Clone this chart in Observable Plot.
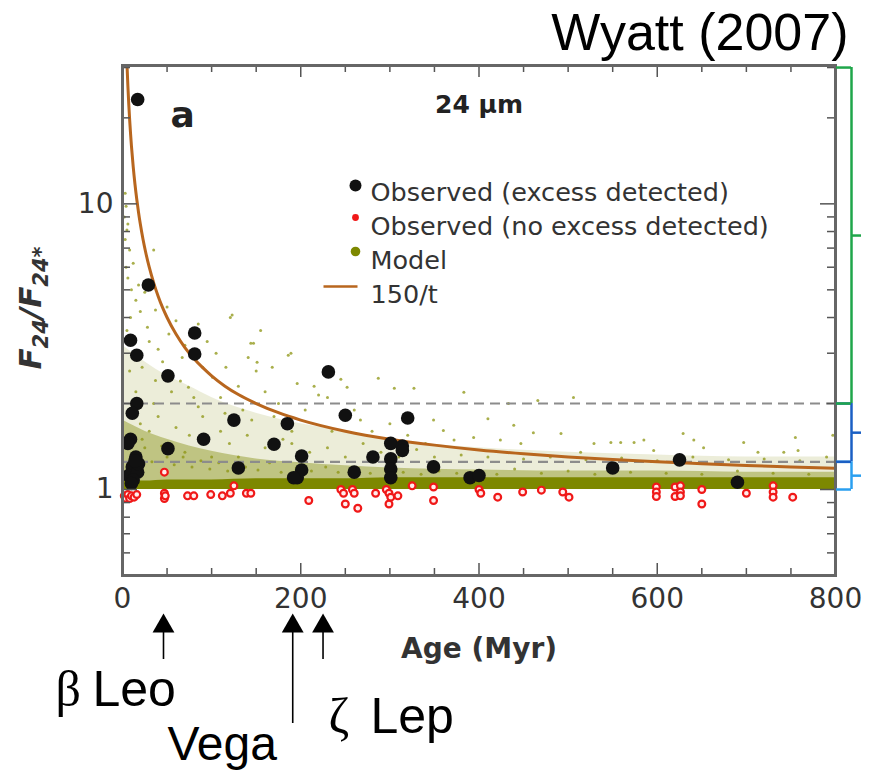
<!DOCTYPE html>
<html><head><meta charset="utf-8">
<script src="https://cdn.jsdelivr.net/npm/d3@7"></script>
<script src="https://cdn.jsdelivr.net/npm/@observablehq/plot@0.6"></script>
<style>
html,body{margin:0;padding:0;background:#fff;}
#chart svg{display:block;}
</style></head><body><div id="chart"></div>
<script>
// ---------- data ----------
// Observed stars with 24 µm excess detected (age in Myr, F24/F24*)
const excessAge   = [17, 29, 9, 16, 81, 81, 51, 16, 11, 125, 185, 9, 6, 51, 91, 170, 201, 130, 15, 11, 7, 17, 12, 18, 10, 14, 196, 201, 192, 231, 250, 320, 281, 301, 314, 314, 301, 301, 301, 260, 349, 390, 400, 550, 625, 690];
const excessRatio = [23.2, 5.2, 3.33, 2.95, 3.53, 2.98, 2.5, 2.0, 1.85, 1.75, 1.70, 1.50, 1.45, 1.39, 1.50, 1.44, 1.31, 1.19, 1.30, 1.20, 1.12, 1.15, 1.08, 1.23, 1.05, 1.26, 1.10, 1.17, 1.10, 2.58, 1.82, 1.78, 1.30, 1.45, 1.42, 1.37, 1.28, 1.18, 1.10, 1.15, 1.20, 1.10, 1.12, 1.19, 1.27, 1.06];
// Observed stars with no excess detected
const noExcessAge   = [2, 4, 6, 8, 10, 13, 16, 47, 47, 47, 48, 73, 80, 99, 112, 121, 125, 139, 144, 209, 245, 248, 250, 258, 260, 264, 284, 296, 299, 301, 299, 309, 325, 349, 349, 400, 402, 421, 449, 470, 494, 501, 599, 599, 599, 620, 620, 626, 626, 626, 650, 650, 700, 730, 730, 730, 752];
const noExcessRatio = [0.95, 0.93, 0.96, 0.93, 0.95, 0.94, 0.96, 1.15, 0.97, 0.93, 0.95, 0.95, 0.95, 0.96, 0.95, 0.97, 1.03, 0.97, 0.97, 0.915, 1.0, 0.97, 0.89, 1.0, 0.97, 0.86, 0.97, 1.0, 0.97, 0.94, 0.89, 0.95, 1.03, 1.02, 0.915, 1.0, 0.97, 0.94, 0.98, 0.995, 0.98, 0.94, 1.02, 0.98, 0.945, 1.02, 0.945, 1.03, 0.98, 0.95, 1.0, 0.89, 0.97, 1.03, 0.98, 0.94, 0.94];
// Model population: envelopes of the dense cloud (age, ratio)
const bandAge   = [0, 25, 50, 75, 100, 150, 200, 250, 300, 400, 500, 600, 700, 800];
const bandCore  = [1.07, 1.07, 1.08, 1.08, 1.08, 1.09, 1.09, 1.09, 1.10, 1.10, 1.10, 1.10, 1.10, 1.10];
const bandDense = [1.75, 1.6, 1.5, 1.42, 1.36, 1.28, 1.24, 1.21, 1.19, 1.17, 1.16, 1.16, 1.15, 1.15];
const bandHaze  = [3.2, 2.8, 2.5, 2.3, 2.1, 1.85, 1.7, 1.6, 1.5, 1.4, 1.35, 1.32, 1.3, 1.3];
// Model population: scattered individual points outside the dense cloud
const modelAge   = [3, 4, 5, 3, 8, 35, 6, 15, 10, 20, 37, 28, 52, 60, 22, 67, 90, 74, 37, 123, 147, 155, 186, 196, 168, 141, 116, 101, 50, 121, 2, 6, 12, 4, 18, 25, 9, 30, 40, 45, 14, 5, 8, 55, 80, 95, 105, 130, 110, 160, 175, 85, 70, 189, 215, 230, 245, 252, 287, 305, 327, 383, 433, 466, 220, 267, 349, 360, 410, 439, 461, 372, 394, 424, 506, 492, 529, 548, 559, 574, 585, 629, 641, 652, 697, 713, 755, 758, 797, 447, 514, 596, 742, 144, 151, 260, 280, 300, 320, 340, 235, 205, 190, 150, 135, 10, 20, 30, 40, 60, 75, 90, 110, 120, 140, 160, 180, 25, 50, 70, 100, 130, 15, 35, 65, 85, 115, 145, 170, 190, 210, 230, 250, 270, 290, 310, 330, 350, 380, 410, 450, 480, 520, 560, 600, 640, 680, 720, 760, 790,
  5, 12, 22, 33, 44, 58, 68, 78, 88, 98, 108, 118, 128, 138, 152, 165, 178, 195, 212, 228, 242, 262, 278, 295, 315, 335, 355, 375, 395, 420, 440, 470, 500, 530, 570, 610, 650, 690, 730, 770];
const modelRatio = [10.9, 9.8, 8.1, 7.5, 6.9, 6.9, 5.5, 4.6, 5.0, 4.2, 4.25, 3.7, 3.5, 3.9, 2.68, 2.9, 2.68, 2.28, 2.41, 4.08, 3.25, 3.6, 2.95, 2.35, 2.68, 2.9, 2.68, 2.47, 4.35, 4.0, 9.0, 8.5, 6.2, 6.0, 5.2, 4.9, 4.0, 3.3, 3.1, 2.8, 3.0, 3.6, 2.6, 2.2, 2.1, 3.3, 3.0, 2.3, 2.1, 2.2, 2.0, 3.8, 3.2, 3.0, 2.3, 2.1, 2.43, 2.28, 2.45, 2.26, 2.26, 2.19, 2.0, 2.05, 2.14, 1.75, 1.75, 1.61, 1.77, 1.68, 1.58, 1.49, 1.52, 1.49, 2.1, 1.57, 1.45, 1.46, 1.46, 1.46, 1.49, 1.57, 1.49, 1.40, 1.46, 1.35, 1.52, 1.37, 1.55, 1.45, 1.35, 1.37, 1.35, 3.25, 2.79, 1.9, 1.6, 1.7, 1.55, 1.45, 1.6, 1.9, 1.6, 2.6, 1.9, 1.9, 1.7, 1.6, 1.8, 1.65, 1.55, 1.8, 1.6, 1.45, 1.55, 1.4, 1.5, 1.4, 1.3, 1.35, 1.3, 1.3, 2.2, 2.0, 2.4, 1.95, 1.85, 1.75, 1.8, 1.45, 1.35, 1.4, 1.3, 1.45, 1.35, 1.3, 1.38, 1.3, 1.32, 1.3, 1.28, 1.3, 1.27, 1.29, 1.26, 1.3, 1.27, 1.28, 1.26, 1.3,
  1.45, 1.35, 1.5, 1.25, 1.42, 1.22, 1.3, 1.2, 1.26, 1.18, 1.24, 1.16, 1.22, 1.2, 1.17, 1.24, 1.15, 1.19, 1.16, 1.2, 1.15, 1.18, 1.14, 1.17, 1.15, 1.13, 1.16, 1.14, 1.15, 1.13, 1.18, 1.14, 1.16, 1.13, 1.15, 1.14, 1.13, 1.16, 1.14, 1.13];
// 150/t curve (plotted as 1 + 150/t), sampled values
const curveAge   = [5, 6, 7, 8, 9, 10, 12, 14, 16, 18, 20, 23, 26, 30, 35, 40, 45, 50, 60, 70, 80, 90, 100, 115, 130, 150, 175, 200, 250, 300, 350, 400, 450, 500, 550, 600, 650, 700, 750, 800];
const curveRatio = [31, 26, 22.43, 19.75, 17.67, 16, 13.5, 11.71, 10.375, 9.33, 8.5, 7.52, 6.77, 6, 5.29, 4.75, 4.33, 4, 3.5, 3.14, 2.875, 2.67, 2.5, 2.30, 2.15, 2.0, 1.857, 1.75, 1.6, 1.5, 1.43, 1.375, 1.333, 1.3, 1.273, 1.25, 1.231, 1.214, 1.2, 1.1875];
// dashed thresholds and the coloured brackets on the right
const thresholds = [2, 1.25];
const bracketLow  = [2, 1.25, 1];
const bracketHigh = [30, 2, 1.25];
const bracketColor = ["#1fa64a", "#1a5fc4", "#2a9ff0"];
// axes
const xTicks = [0, 200, 400, 600, 800];
const xMinorTicks = [50, 100, 150, 250, 300, 350, 450, 500, 550, 650, 700, 750];
const yTicks = [1, 10];
const yMinorTicks = [0.6, 0.7, 0.8, 0.9, 2, 3, 4, 5, 6, 7, 8, 9, 20, 30];
const legendLabels = ["Observed (excess detected)", "Observed (no excess detected)", "Model", "150/t"];
// star annotations
const starNames = ["Leo", "Vega", "Lep"];
const starGreek = ["β", "", "ζ"];
const starAge = [46, 191, 225];

// ---------- build tables ----------
const excess = excessAge.map((a, i) => ({age: a, ratio: excessRatio[i]}));
const noExcess = noExcessAge.map((a, i) => ({age: a, ratio: noExcessRatio[i]}));
const model = modelAge.map((a, i) => ({age: a, ratio: modelRatio[i]}));
const band = bandAge.map((a, i) => ({age: a, core: bandCore[i], dense: bandDense[i], haze: bandHaze[i]}));
const curve = curveAge.map((a, i) => ({age: a, ratio: curveRatio[i]}));
const brackets = bracketLow.map((lo, i) => ({lo, hi: bracketHigh[i], color: bracketColor[i]}));
const stars = starAge.map((a, i) => ({age: a, name: starNames[i], greek: starGreek[i]}));

const W = 873, H = 773, mL = 122, mR = 38, mT = 65, mB = 198;
const fw = W - mL - mR, fh = H - mT - mB;
const olive = "#7d8800";
const sans = "DejaVu Sans";
const arial = "Liberation Sans";

const chart = Plot.plot({
  width: W, height: H,
  marginLeft: mL, marginRight: mR, marginTop: mT, marginBottom: mB,
  style: {fontFamily: sans, background: "white", overflow: "visible", color: "#222"},
  x: {domain: [0, 800]},
  y: {type: "log", domain: [0.5, 30.5]},
  color: {type: "identity"},
  marks: [
    // model cloud
    Plot.areaY(band, {x: "age", y1: 1, y2: "haze", fill: olive, fillOpacity: 0.15, curve: "monotone-x", clip: true}),
    Plot.areaY(band, {x: "age", y1: 1, y2: "dense", fill: olive, fillOpacity: 0.4, curve: "monotone-x", clip: true}),
    Plot.areaY(band, {x: "age", y1: 1, y2: "core", fill: olive, fillOpacity: 1, curve: "monotone-x", clip: true}),
    Plot.dot(model, {x: "age", y: "ratio", r: 1.5, fill: "#8c9410", fillOpacity: 0.75, clip: true}),
    // dashed thresholds
    Plot.ruleY(thresholds, {stroke: "#8c8c8c", strokeWidth: 2.2, strokeDasharray: "10,6"}),
    // 150/t curve
    Plot.line(curve, {x: "age", y: "ratio", stroke: "#b8661e", strokeWidth: 3, curve: "monotone-x", clip: true}),
    // observations
    Plot.dot(noExcess, {x: "age", y: "ratio", r: 3.4, stroke: "#f01818", strokeWidth: 2.2, fill: "#ffecec"}),
    Plot.dot(excess, {x: "age", y: "ratio", r: 6.8, fill: "#111"}),
    // inward ticks
    Plot.ruleX(xMinorTicks, {insetTop: fh - 7, stroke: "#555", strokeWidth: 1.5}),
    Plot.ruleX(xTicks, {insetTop: fh - 12, stroke: "#555", strokeWidth: 1.5}),
    Plot.ruleX(xMinorTicks, {insetBottom: fh - 7, stroke: "#555", strokeWidth: 1.5}),
    Plot.ruleX(xTicks, {insetBottom: fh - 12, stroke: "#555", strokeWidth: 1.5}),
    Plot.ruleY(yMinorTicks, {insetRight: fw - 8, stroke: "#555", strokeWidth: 1.5}),
    Plot.ruleY(yTicks, {insetRight: fw - 15, stroke: "#555", strokeWidth: 1.5}),
    Plot.ruleY(yMinorTicks, {insetLeft: fw - 8, stroke: "#555", strokeWidth: 1.5}),
    Plot.ruleY(yTicks, {insetLeft: fw - 15, stroke: "#555", strokeWidth: 1.5}),
    Plot.frame({stroke: "#666", strokeWidth: 3}),
    // axes
    Plot.axisX({ticks: xTicks, tickSize: 0, tickPadding: 13, fontSize: 28, fill: "#333", label: null, tickFormat: d => `${d}`}),
    Plot.axisY({ticks: yTicks, tickSize: 0, tickPadding: 9, fontSize: 28, fill: "#333", label: null, tickFormat: d => `${d}`}),
    Plot.text(["Age (Myr)"], {frameAnchor: "bottom", dy: 63, lineAnchor: "top", text: d => d, fontSize: 28, fontWeight: "bold", fill: "#333"}),
    // panel labels
    Plot.text(["a"], {frameAnchor: "top-left", dx: 48, dy: 36, lineAnchor: "top", textAnchor: "start", text: d => d, fontSize: 36, fontWeight: "bold", fill: "#222"}),
    Plot.text(["24 µm"], {frameAnchor: "top", dx: 0, dy: 30, lineAnchor: "top", text: d => d, fontSize: 25, fontWeight: "bold", fill: "#222"}),
    // legend
    Plot.dot([0], {frameAnchor: "top-left", dx: 233, dy: 120, r: 6, fill: "#111"}),
    Plot.dot([0], {frameAnchor: "top-left", dx: 233, dy: 152, r: 3.4, fill: "#f01818"}),
    Plot.dot([0], {frameAnchor: "top-left", dx: 233, dy: 186, r: 4.8, fill: olive}),
    Plot.dot([0], {frameAnchor: "top-left", dx: 218, dy: 221, r: 5, stroke: "#b8661e", strokeWidth: 2.5, fill: "none",
      symbol: {draw(ctx) { ctx.moveTo(-17, 0); ctx.lineTo(17, 0); }}}),
    Plot.text([legendLabels.join("\n")], {frameAnchor: "top-left", dx: 248, dy: 111, lineAnchor: "top", textAnchor: "start", lineHeight: 1.34, text: d => d, fontSize: 25.5, fill: "#333"}),
    // right brackets
    Plot.ruleX(brackets, {x: () => 800, y1: "lo", y2: "hi", dx: 16, stroke: "color", strokeWidth: 2.5}),
    Plot.ruleY(brackets, {y: "hi", insetLeft: fw + 1, insetRight: -16, stroke: "color", strokeWidth: 2.5}),
    Plot.ruleY(brackets, {y: "lo", insetLeft: fw + 1, insetRight: -16, stroke: "color", strokeWidth: 2.5}),
    Plot.ruleY(brackets, {y: d => Math.sqrt(d.lo * d.hi), insetLeft: fw + 16, insetRight: -26, stroke: "color", strokeWidth: 2.5}),
    // source
    Plot.text(["Wyatt (2007)"], {frameAnchor: "top-right", dx: 13, dy: -52, lineAnchor: "top", textAnchor: "end", text: d => d, fontSize: 52, fontFamily: arial, fill: "#000"}),
    // star annotations: arrows
    Plot.ruleX(stars.filter(d => d.name !== "Vega"), {x: "age", insetTop: fh + 55, insetBottom: -84, stroke: "#000", strokeWidth: 1.6}),
    Plot.ruleX(stars.filter(d => d.name === "Vega"), {x: "age", insetTop: fh + 55, insetBottom: -148, stroke: "#000", strokeWidth: 1.6}),
    Plot.dot(stars, {x: "age", frameAnchor: "bottom", dy: 50.7, symbol: "triangle", r: 8.1, fill: "#000"}),
    // star annotations: labels
    Plot.text(stars.filter(d => d.name === "Leo"), {frameAnchor: "bottom-left", dx: -67, dy: 95, lineAnchor: "top", textAnchor: "start", text: "greek", fontSize: 50, fontFamily: "Liberation Serif", fill: "#000"}),
    Plot.text(stars.filter(d => d.name === "Leo"), {frameAnchor: "bottom-left", dx: -30, dy: 95, lineAnchor: "top", textAnchor: "start", text: "name", fontSize: 50, fontFamily: arial, fill: "#000"}),
    Plot.text(stars.filter(d => d.name === "Vega"), {frameAnchor: "bottom-left", dx: 45, dy: 150, lineAnchor: "top", textAnchor: "start", text: "name", fontSize: 48, fontFamily: arial, fill: "#000"}),
    Plot.text(stars.filter(d => d.name === "Lep"), {frameAnchor: "bottom-left", dx: 206, dy: 122, lineAnchor: "top", textAnchor: "start", text: "greek", fontSize: 50, fontFamily: "Liberation Serif", fill: "#000"}),
    Plot.text(stars.filter(d => d.name === "Lep"), {frameAnchor: "bottom-left", dx: 248, dy: 122, lineAnchor: "top", textAnchor: "start", text: "name", fontSize: 50, fontFamily: arial, fill: "#000"})
  ]
});

// y-axis label with subscripts
const svg = d3.select(chart);
const yl = svg.append("text")
  .attr("transform", `translate(41,${mT + fh / 2 - 12}) rotate(-90)`)
  .attr("text-anchor", "middle")
  .attr("fill", "#333")
  .style("font-family", sans).style("font-weight", "bold").style("font-style", "italic").style("font-size", "31px");
yl.append("tspan").text("F");
yl.append("tspan").attr("dy", 7).style("font-size", "21px").text("24");
yl.append("tspan").attr("dy", -7).text("/F");
yl.append("tspan").attr("dy", 7).style("font-size", "21px").text("24*");

document.getElementById("chart").append(chart);
</script>
</body></html>
